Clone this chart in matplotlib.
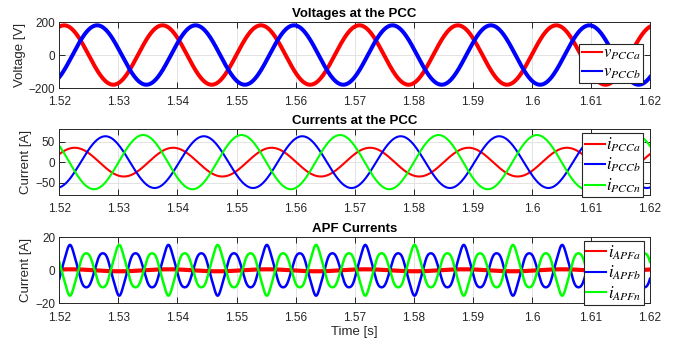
# PCC voltages, PCC currents and APF currents (60 Hz grid)

import numpy as np
import matplotlib.pyplot as plt
from matplotlib.lines import Line2D

plt.rcParams['font.family'] = ['Liberation Sans', 'DejaVu Sans']
plt.rcParams['mathtext.fontset'] = 'stix'

t_start = 1.52
t_end = 1.62
f_grid = 60.0

# PCC voltages: amplitude [V] and time of positive peak [s]
v_amp = [180, 180]
v_peak = [1.5208, 1.5264]
v_names = [r'$v_{PCCa}$', r'$v_{PCCb}$']
v_colors = ['red', 'blue']

# PCC currents: amplitude [A] and time of positive peak [s]
i_amp = [35, 63, 66]
i_peak = [1.5226, 1.5278, 1.5342]
i_names = [r'$i_{PCCa}$', r'$i_{PCCb}$', r'$i_{PCCn}$']
i_colors = ['red', 'blue', 'lime']

# APF currents: harmonic amplitudes [A], all aligned to one reference peak time
apf_orders = [1, 3, 5, 7, 11, 13]
apf_a = [0.6, 0.0, 0.0, 0.0, 0.0, 0.0]
apf_b = [1.5, 12.0, 0.9, 0.5, 0.3, 0.2]
apf_n = [-1.5, -12.0, -0.9, -0.5, -0.3, -0.2]
apf_ref = 1.5218
apf_names = [r'$i_{APFa}$', r'$i_{APFb}$', r'$i_{APFn}$']
apf_colors = ['red', 'blue', 'lime']

xticks = [1.52, 1.53, 1.54, 1.55, 1.56, 1.57, 1.58, 1.59, 1.6, 1.61, 1.62]
xticklabels = ['1.52', '1.53', '1.54', '1.55', '1.56', '1.57', '1.58', '1.59', '1.6', '1.61', '1.62']

t = np.linspace(t_start, t_end, 4000)
w = 2 * np.pi * f_grid


def wave(amp, peak):
    return amp * np.cos(w * (t - peak))


def harmonics(amps):
    out = np.zeros_like(t)
    for h, a in zip(apf_orders, amps):
        out += a * np.cos(h * w * (t - apf_ref))
    return out


def style_axes(ax, ylim, yticks, title, ylabel):
    ax.set_xlim(t_start, t_end)
    ax.set_ylim(ylim)
    ax.set_yticks(yticks)
    ax.set_xticks(xticks)
    ax.set_xticklabels(xticklabels)
    ax.grid(True, color='#e3e3e3', linewidth=0.7)
    ax.set_axisbelow(True)
    ax.tick_params(direction='in', top=True, right=True, length=4, width=0.7,
                   colors='#262626', labelsize=8.5, pad=6)
    ax.tick_params(axis='y', pad=3)
    for s in ax.spines.values():
        s.set_color('#262626')
        s.set_linewidth(0.7)
    ax.set_title(title, fontsize=9.5, fontweight='bold', pad=3.5)
    ax.set_ylabel(ylabel, fontsize=9.5, color='#262626', labelpad=2)


def add_legend(ax, names, colors, anchor):
    handles = [Line2D([], [], color=c, linewidth=1.5) for c in colors]
    leg = ax.legend(handles, names, loc='lower right', bbox_to_anchor=anchor,
                    fontsize=12, frameon=True, fancybox=False, framealpha=1,
                    edgecolor='#262626', handlelength=1.2, handletextpad=0.1,
                    borderpad=0.15, labelspacing=0.12, borderaxespad=0)
    leg.get_frame().set_linewidth(0.8)


fig = plt.figure(figsize=(6.86, 3.41), dpi=100)
ax1 = fig.add_axes([0.0865, 0.7419, 0.861, 0.1935])
ax2 = fig.add_axes([0.0865, 0.4282, 0.861, 0.1927])
ax3 = fig.add_axes([0.0865, 0.1106, 0.861, 0.1935])

for a, p, c in zip(v_amp, v_peak, v_colors):
    ax1.plot(t, wave(a, p), color=c, linewidth=2.9)
style_axes(ax1, (-200, 200), [-200, 0, 200], 'Voltages at the PCC', 'Voltage [V]')
add_legend(ax1, v_names, v_colors, (0.989, 0.071))

for a, p, c in zip(i_amp, i_peak, i_colors):
    ax2.plot(t, wave(a, p), color=c, linewidth=1.5)
style_axes(ax2, (-80, 80), [-50, 0, 50], 'Currents at the PCC', 'Current [A]')
add_legend(ax2, i_names, i_colors, (0.989, -0.035))

apf_lw = [3.0, 1.8, 1.8]
for amps, c, lw in zip([apf_a, apf_b, apf_n], apf_colors, apf_lw):
    ax3.plot(t, harmonics(amps), color=c, linewidth=lw)
style_axes(ax3, (-20, 20), [-20, 0, 20], 'APF Currents', 'Current [A]')
ax3.set_xlabel('Time [s]', fontsize=9.5, color='#262626', labelpad=2)
add_legend(ax3, apf_names, apf_colors, (0.990, -0.026))

fig.savefig('out.png', dpi=100)
